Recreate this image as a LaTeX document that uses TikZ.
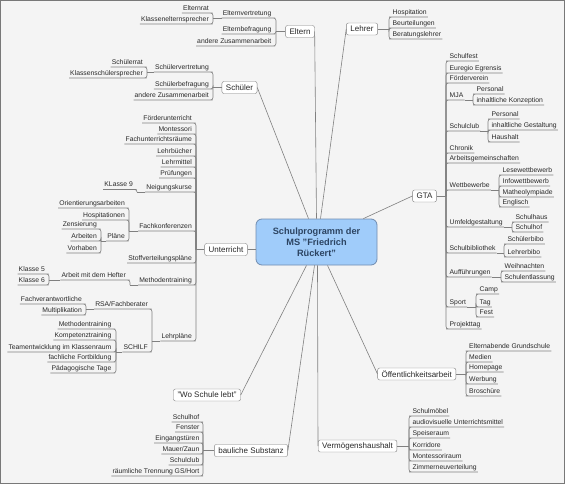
\documentclass[tikz,border=0pt]{standalone}
\usepackage{fontspec}
\setmainfont{Liberation Sans}
\usetikzlibrary{calc}
\definecolor{RootFill}{RGB}{160,204,250}
\definecolor{RootEdge}{RGB}{112,140,176}
\definecolor{RootText}{RGB}{44,68,98}
\definecolor{LineGray}{RGB}{128,128,128}
\definecolor{TextGray}{RGB}{40,40,40}
\definecolor{BgGray}{RGB}{244,244,244}
\definecolor{FrameGray}{RGB}{120,120,120}
\newcommand{\leaffont}{\fontsize{6.8}{8}\selectfont}
\newcommand{\topicfont}{\fontsize{8}{9.6}\selectfont}
\newcommand{\centrefont}{\fontsize{9.2}{11}\selectfont\bfseries}
\tikzset{
  centre/.style={draw=RootEdge, fill=RootFill, text=RootText, line width=0.8pt, rounded corners=6pt,
    font=\centrefont, align=center, minimum width=121pt, minimum height=46pt, inner sep=2pt},
  topic/.style={draw=LineGray, fill=white, text=TextGray, rounded corners=2pt, font=\topicfont,
    inner xsep=4pt, inner ysep=1.5pt, minimum height=12pt},
  leafL/.style={font=\leaffont, text=TextGray, inner xsep=1pt, inner ysep=1pt,
    text height=5pt, text depth=1.4pt, anchor=south east},
  leafR/.style={leafL, anchor=south west},
  link/.style={draw=LineGray, line width=0.6pt, rounded corners=2.5pt},
}
\begin{document}
\begin{tikzpicture}[x=1pt, y=-1pt]
\useasboundingbox (0,0) rectangle (565,484);
\fill[BgGray] (0,0) rectangle (565,484);
\draw[FrameGray, line width=1pt] (0.5,0.5) rectangle (564.5,483.5);

\node[centre] (root) at (316.5,242) {Schulprogramm der\\MS "Friedrich\\Rückert"};

% main topics
\node[topic] (eltern) at (300,31.5) {Eltern};
\node[topic] (lehrer) at (362,29) {Lehrer};
\node[topic] (schueler) at (239.5,87.5) {Schüler};
\node[topic] (unterricht) at (226,249.5) {Unterricht};
\node[topic] (gta) at (424.5,196) {GTA};
\node[topic, anchor=east] (oeff) at (456,374) {Öffentlichkeitsarbeit};
\node[topic] (wo) at (207,395) {"Wo Schule lebt"};
\node[topic] (bau) at (251,450.5) {bauliche Substanz};
\node[topic, anchor=west] (verm) at (318,446) {Vermögenshaushalt};

\draw[link] (eltern.east) -- (root.north);
\draw[link] (lehrer.west) -- ([xshift=4pt]root.north);
\draw[link] (schueler.east) -- ([xshift=-8pt]root.north);
\draw[link] (gta.west) -- ([xshift=-14pt]root.north east);
\draw[link] (unterricht.east) -- (unterricht.east -| root.west);
\draw[link] (wo.east) -- ([xshift=-10pt]root.south);
\draw[link] (bau.east) -- ([xshift=-2pt]root.south);
\draw[link] (verm.west) -- ([xshift=1pt]root.south);
\draw[link] (oeff.west) -- ([xshift=11pt]root.south);

% Eltern
\coordinate (eltern-j) at (276,31.5);
\draw[link] (eltern.west) -- (eltern-j);
\foreach \nm/\yy/\txt in {ev/18/Elternvertretung, eb/34/Elternbefragung, ez/46/andere Zusammenarbeit} {
  \node[leafL] (\nm) at (272.5,\yy) {\txt};
  \draw[link] (eltern-j) |- (\nm.south east) -- (\nm.south west);
}
\coordinate (ev-j) at (213,18);
\draw[link] (ev.south west) -- (ev-j);
\foreach \nm/\yy/\txt in {ev1/13/Elternrat, ev2/24/Klassenelternsprecher} {
  \node[leafL] (\nm) at (210,\yy) {\txt};
  \draw[link] (ev-j) |- (\nm.south east) -- (\nm.south west);
}

% Schueler
\coordinate (schueler-j) at (213,87.5);
\draw[link] (schueler.west) -- (schueler-j);
\foreach \nm/\yy/\txt in {sv/72/Schülervertretung, sb/89/Schülerbefragung, sz/100/andere Zusammenarbeit} {
  \node[leafL] (\nm) at (210,\yy) {\txt};
  \draw[link] (schueler-j) |- (\nm.south east) -- (\nm.south west);
}
\coordinate (sv-j) at (147,72);
\draw[link] (sv.south west) -- (sv-j);
\foreach \nm/\yy/\txt in {sv1/67/Schülerrat, sv2/78/Klassenschülersprecher} {
  \node[leafL] (\nm) at (144,\yy) {\txt};
  \draw[link] (sv-j) |- (\nm.south east) -- (\nm.south west);
}

% Lehrer
\coordinate (lehrer-j) at (389,29);
\draw[link] (lehrer.east) -- (lehrer-j);
\foreach \nm/\yy/\txt in {lh1/17/Hospitation, lh2/28/Beurteilungen, lh3/39/Beratungslehrer} {
  \node[leafR] (\nm) at (391.5,\yy) {\txt};
  \draw[link] (lehrer-j) |- (\nm.south west) -- (\nm.south east);
}

% GTA
\coordinate (gta-j) at (446,196);
\draw[link] (gta.east) -- (gta-j);
\foreach \nm/\yy/\txt in {g1/61/Schulfest, g2/73/Euregio Egrensis, g3/83/Förderverein, g4/100/MJA,
    g5/131/Schulclub, g6/153/Chronik, g7/163/Arbeitsgemeinschaften, g8/190/Wettbewerbe,
    g9/227/Umfeldgestaltung, g10/253/Schulbibliothek, g11/277/Aufführungen, g12/307/Sport,
    g13/329/Projekttag} {
  \node[leafR] (\nm) at (448.5,\yy) {\txt};
  \draw[link] (gta-j) |- (\nm.south west) -- (\nm.south east);
}
\coordinate (g4-j) at (473,100);
\draw[link] (g4.south east) -- (g4-j);
\foreach \nm/\yy/\txt in {g41/94/Personal, g42/105/inhaltliche Konzeption} {
  \node[leafR] (\nm) at (475.5,\yy) {\txt};
  \draw[link] (g4-j) |- (\nm.south west) -- (\nm.south east);
}
\coordinate (g5-j) at (488,131);
\draw[link] (g5.south east) -- (g5-j);
\foreach \nm/\yy/\txt in {g51/119/Personal, g52/130/inhaltliche Gestaltung, g53/142/Haushalt} {
  \node[leafR] (\nm) at (490.5,\yy) {\txt};
  \draw[link] (g5-j) |- (\nm.south west) -- (\nm.south east);
}
\coordinate (g8-j) at (499,190);
\draw[link] (g8.south east) -- (g8-j);
\foreach \nm/\yy/\txt in {g81/175/Lesewettbewerb, g82/186/Infowettbewerb, g83/197/Matheolympiade, g84/207/Englisch} {
  \node[leafR] (\nm) at (501.5,\yy) {\txt};
  \draw[link] (g8-j) |- (\nm.south west) -- (\nm.south east);
}
\coordinate (g9-j) at (512,227);
\draw[link] (g9.south east) -- (g9-j);
\foreach \nm/\yy/\txt in {g91/222/Schulhaus, g92/232/Schulhof} {
  \node[leafR] (\nm) at (514.5,\yy) {\txt};
  \draw[link] (g9-j) |- (\nm.south west) -- (\nm.south east);
}
\coordinate (g10-j) at (504,253);
\draw[link] (g10.south east) -- (g10-j);
\foreach \nm/\yy/\txt in {g101/244/Schülerbibo, g102/257/Lehrerbibo} {
  \node[leafR] (\nm) at (506.5,\yy) {\txt};
  \draw[link] (g10-j) |- (\nm.south west) -- (\nm.south east);
}
\coordinate (g11-j) at (501,277);
\draw[link] (g11.south east) -- (g11-j);
\foreach \nm/\yy/\txt in {g111/271/Weihnachten, g112/282/Schulentlassung} {
  \node[leafR] (\nm) at (503.5,\yy) {\txt};
  \draw[link] (g11-j) |- (\nm.south west) -- (\nm.south east);
}
\coordinate (g12-j) at (476,307);
\draw[link] (g12.south east) -- (g12-j);
\foreach \nm/\yy/\txt in {g121/294/Camp, g122/307/Tag, g123/317/Fest} {
  \node[leafR] (\nm) at (478.5,\yy) {\txt};
  \draw[link] (g12-j) |- (\nm.south west) -- (\nm.south east);
}

% Oeffentlichkeitsarbeit
\coordinate (oeff-j) at (466,374);
\draw[link] (oeff.east) -- (oeff-j);
\foreach \nm/\yy/\txt in {oe1/351/Elternabende Grundschule, oe2/362/Medien, oe3/372/Homepage,
    oe4/384/Werbung, oe5/396/Broschüre} {
  \node[leafR] (\nm) at (468,\yy) {\txt};
  \draw[link] (oeff-j) |- (\nm.south west) -- (\nm.south east);
}

% Vermoegenshaushalt
\coordinate (verm-j) at (409,446);
\draw[link] (verm.east) -- (verm-j);
\foreach \nm/\yy/\txt in {vh1/416/Schulmöbel, vh2/427/audiovisuelle Unterrichtsmittel, vh3/438/Speiseraum,
    vh4/450/Korridore, vh5/461/Montessoriraum, vh6/472/Zimmerneuverteilung} {
  \node[leafR] (\nm) at (411.5,\yy) {\txt};
  \draw[link] (verm-j) |- (\nm.south west) -- (\nm.south east);
}

% bauliche Substanz
\coordinate (bau-j) at (203,450.5);
\draw[link] (bau.west) -- (bau-j);
\foreach \nm/\yy/\txt in {bs1/422/Schulhof, bs2/432/Fenster, bs3/443/Eingangstüren, bs4/454/{Mauer/Zaun},
    bs5/465/Schulclub, bs6/476/{räumliche Trennung GS/Hort}} {
  \node[leafL] (\nm) at (200.5,\yy) {\txt};
  \draw[link] (bau-j) |- (\nm.south east) -- (\nm.south west);
}

% Unterricht
\coordinate (unt-j) at (196,249.5);
\draw[link] (unterricht.west) -- (unt-j);
\foreach \nm/\yy/\txt in {u1/123/Förderunterricht, u2/134/Montessori, u3/144/Fachunterrichtsräume,
    u4/156/Lehrbücher, u5/167/Lehrmittel, u6/178/Prüfungen, u7/192/Neigungskurse,
    u8/231/Fachkonferenzen, u9/263/Stoffverteilungspläne, u10/285/Methodentraining, u11/341/Lehrpläne} {
  \node[leafL] (\nm) at (193,\yy) {\txt};
  \draw[link] (unt-j) |- (\nm.south east) -- (\nm.south west);
}
\coordinate (u7-j) at (137,192);
\draw[link] (u7.south west) -- (u7-j);
\node[leafL] (u71) at (134,189.5) {KLasse 9};
\draw[link] (u7-j) |- (u71.south east) -- (u71.south west);

\coordinate (u8-j) at (129,231);
\draw[link] (u8.south west) -- (u8-j);
\foreach \nm/\yy/\txt in {u81/208/Orientierungsarbeiten, u82/220/Hospitationen, u83/241/Pläne} {
  \node[leafL] (\nm) at (126,\yy) {\txt};
  \draw[link] (u8-j) |- (\nm.south east) -- (\nm.south west);
}
\coordinate (u83-j) at (101,241);
\draw[link] (u83.south west) -- (u83-j);
\foreach \nm/\yy/\txt in {u831/229/Zensierung, u832/241/Arbeiten, u833/253/Vorhaben} {
  \node[leafL] (\nm) at (98,\yy) {\txt};
  \draw[link] (u83-j) |- (\nm.south east) -- (\nm.south west);
}

\coordinate (u10-j) at (130,285);
\draw[link] (u10.south west) -- (u10-j);
\node[leafL] (u101) at (127,280) {Arbeit mit dem Hefter};
\draw[link] (u10-j) |- (u101.south east) -- (u101.south west);
\coordinate (u101-j) at (49,280);
\draw[link] (u101.south west) -- (u101-j);
\foreach \nm/\yy/\txt in {u1011/274/Klasse 5, u1012/285/Klasse 6} {
  \node[leafL] (\nm) at (46,\yy) {\txt};
  \draw[link] (u101-j) |- (\nm.south east) -- (\nm.south west);
}

\coordinate (u11-j) at (152,341);
\draw[link] (u11.south west) -- (u11-j);
\foreach \nm/\yy/\txt in {u111/309/{RSA/Fachberater}, u112/352/SCHILF} {
  \node[leafL] (\nm) at (149,\yy) {\txt};
  \draw[link] (u11-j) |- (\nm.south east) -- (\nm.south west);
}
\coordinate (u111-j) at (86,309);
\draw[link] (u111.south west) -- (u111-j);
\foreach \nm/\yy/\txt in {u1111/304/Fachverantwortliche, u1112/315/Multiplikation} {
  \node[leafL] (\nm) at (83,\yy) {\txt};
  \draw[link] (u111-j) |- (\nm.south east) -- (\nm.south west);
}
\coordinate (u112-j) at (116,352);
\draw[link] (u112.south west) -- (u112-j);
\foreach \nm/\yy/\txt in {u1121/329/Methodentraining, u1122/340/Kompetenztraining,
    u1123/352/Teamentwicklung im Klassenraum, u1124/362/fachliche Fortbildung, u1125/373/Pädagogische Tage} {
  \node[leafL] (\nm) at (112.5,\yy) {\txt};
  \draw[link] (u112-j) |- (\nm.south east) -- (\nm.south west);
}
\end{tikzpicture}
\end{document}
